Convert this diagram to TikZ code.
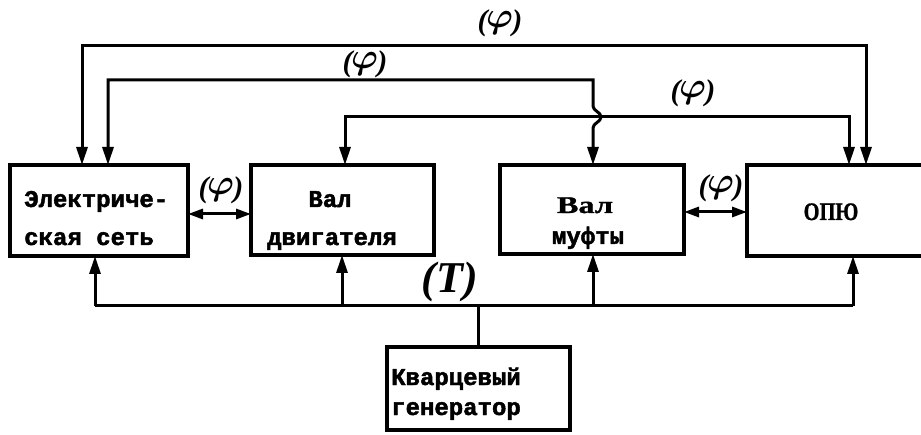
\documentclass[tikz,border=0pt]{standalone}
\usepackage{amsmath}
\usepackage{fontspec}
\usepackage{graphicx}
\setmainfont{Liberation Serif}
\newfontfamily\twfont[BoldFeatures={FakeBold=2}]{Liberation Mono}
\newfontfamily\serbold[BoldFeatures={FakeBold=1}]{Liberation Serif}
\usetikzlibrary{arrows.meta}
\tikzset{
  boxnode/.style={draw, line width=3.4pt, inner sep=0pt, outer sep=0pt},
  conn/.style={line width=3pt, line join=miter},
  arrboth/.style={conn, {Triangle[length=18pt,width=11pt]}-{Triangle[length=18pt,width=11pt]}},
  arrend/.style={conn, -{Triangle[length=18pt,width=11pt]}},
  arrsmall/.style={conn, {Triangle[length=15pt,width=10pt]}-{Triangle[length=15pt,width=10pt]}},
  twtext/.style={font=\twfont\bfseries\fontsize{24}{28}\selectfont, inner sep=0pt},
  serText/.style={font=\serbold\bfseries\fontsize{24}{28}\selectfont, inner sep=0pt},
  philabel/.style={font=\bfseries\itshape\fontsize{30}{34}\selectfont, inner sep=0pt},
  tlabel/.style={font=\bfseries\itshape\fontsize{44}{48}\selectfont, inner sep=0pt}
}
\newcommand{\phitext}{(\kern-0.05em\raisebox{0.08em}{\scalebox{1.45}{$\boldsymbol{\varphi}$}}\kern-0.02em)}
\begin{document}
\begin{tikzpicture}[x=1pt,y=-1pt]
\useasboundingbox (0,0) rectangle (921,435);

% boxes
\node[boxnode, minimum width=178pt, minimum height=91pt] (b1) at (99,210.5) {};
\node[boxnode, minimum width=183pt, minimum height=90pt] (b2) at (342.5,210) {};
\node[boxnode, minimum width=184pt, minimum height=89pt] (b3) at (592,209.5) {};
\node[inner sep=0pt, outer sep=0pt, minimum width=178pt, minimum height=91pt] (b4) at (836,210.5) {};
\draw[line width=3.4pt] (b4.north east) -- (b4.north west) -- (b4.south west) -- (b4.south east);
\node[boxnode, minimum width=183pt, minimum height=83pt] (b5) at (478.5,388.5) {};

% texts
\node[twtext, anchor=base west] (t1a) at (24,207) {Электриче-};
\node[twtext, anchor=base west] (t1b) at (24,245) {ская сеть};
\node[twtext, anchor=base] (t2a) at (330,207) {Вал};
\node[twtext, anchor=base] (t2b) at (332,245) {двигателя};
\node[serText, anchor=base] (t3a) at (585,213) {\scalebox{1.35}[1]{Вал}};
\node[twtext, anchor=base] (t3b) at (588,244) {муфты};
\node[serText, anchor=base] (t4) at (831,220) {\scalebox{0.85}[1.05]{ОПЮ}};
\node[twtext, anchor=base west] (t5a) at (391,385) {Кварцевый};
\node[twtext, anchor=base west] (t5b) at (391,415) {генератор};

% feedback lines (top)
\coordinate (p1a) at (82,46);
\coordinate (p1b) at (866,46);
\draw[arrboth] (p1a |- b1.north) -- (p1a) -- (p1b) -- (p1b |- b4.north);

\coordinate (p2a) at (108,80);
\coordinate (p2b) at (593,80);
\draw[arrboth] (p2a |- b1.north) -- (p2a) -- (p2b) -- (593,106)
  .. controls (593,111) and (601,112) .. (601,117)
  .. controls (601,122) and (593,123) .. (593,128) -- (p2b |- b3.north);

\coordinate (p3a) at (345,117);
\coordinate (p3b) at (849,117);
\draw[arrboth] (p3a |- b2.north) -- (p3a) -- (p3b) -- (p3b |- b4.north);

% side double arrows
\coordinate (d1) at (0,214);
\coordinate (d2) at (0,212);
\draw[arrsmall] (b1.east |- d1) -- (b2.west |- d1);
\draw[arrsmall] (b3.east |- d2) -- (b4.west |- d2);

% bus from generator
\coordinate (bus1) at (95,306);
\coordinate (bus2) at (342,306);
\coordinate (bus3) at (593,306);
\coordinate (bus4) at (853,306);
\draw[conn] (bus1) -- (bus4);
\draw[arrend] (bus1) -- (bus1 |- b1.south);
\draw[arrend] (bus2) -- (bus2 |- b2.south);
\draw[arrend] (bus3) -- (bus3 |- b3.south);
\draw[arrend] (bus4) -- (bus4 |- b4.south);
\draw[conn] (b5.north) -- (b5.north |- bus1);

% labels
\node[philabel] (l1) at (500,23) {\phitext};
\node[philabel] (l2) at (365,64) {\phitext};
\node[philabel] (l3) at (693,93) {\phitext};
\node[philabel] (l4) at (221,190) {\phitext};
\node[philabel] (l5) at (721,188) {\phitext};
\node[tlabel] (lt) at (450,282) {(T)};
\end{tikzpicture}
\end{document}
